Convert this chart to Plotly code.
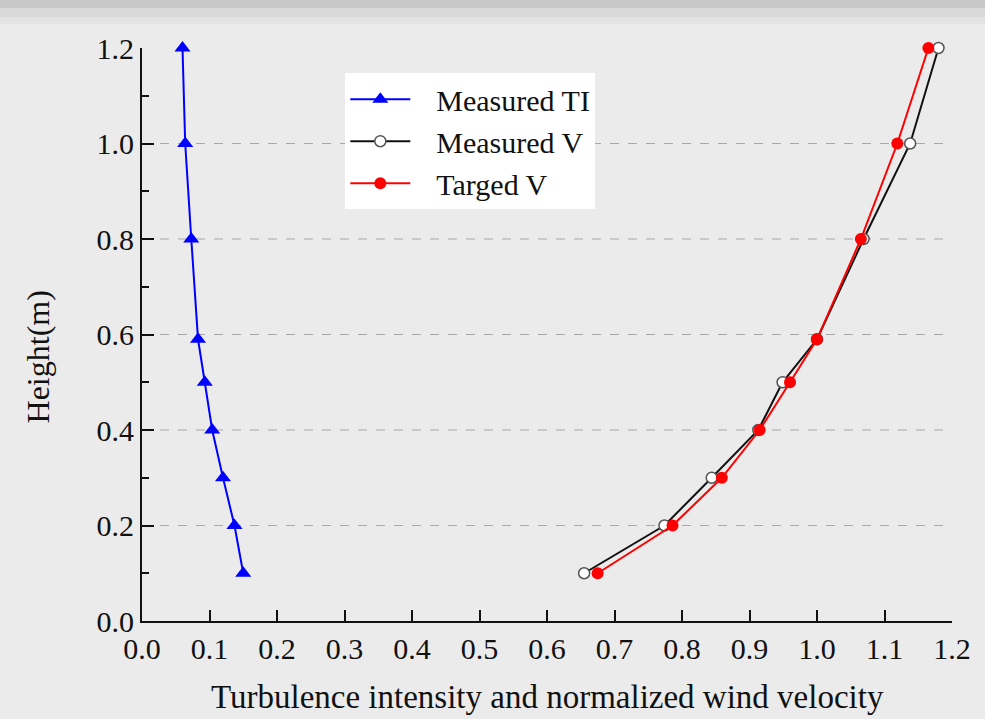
import plotly.graph_objects as go

# Data
heights = [0.1, 0.2, 0.3, 0.4, 0.5, 0.59, 0.8, 1.0, 1.2]
measured_ti = [0.150, 0.137, 0.120, 0.104, 0.093, 0.083, 0.073, 0.064, 0.060]
measured_v = [0.655, 0.774, 0.844, 0.913, 0.949, 1.000, 1.069, 1.138, 1.180]
targed_v = [0.675, 0.786, 0.859, 0.915, 0.960, 1.000, 1.065, 1.119, 1.165]
grid_levels = [0.2, 0.4, 0.6, 0.8, 1.0]
series_names = ["Measured TI", "Measured V", "Targed V"]

FONT = "Liberation Serif, Times New Roman, serif"
BG = "#ebebeb"
PAD = "\u2002\u2009"

fig = go.Figure()

fig.add_trace(go.Scatter(
    x=measured_ti, y=heights, mode="lines+markers", name=PAD + series_names[0],
    line=dict(color="#0000ff", width=2),
    marker=dict(symbol="triangle-up", size=14, color="#0000ff",
                line=dict(width=0)),
    cliponaxis=False,
))
fig.add_trace(go.Scatter(
    x=measured_v, y=heights, mode="lines+markers", name=PAD + series_names[1],
    line=dict(color="#111111", width=2),
    marker=dict(symbol="circle", size=11, color="#ffffff",
                line=dict(color="#555555", width=1.5)),
    cliponaxis=False,
))
fig.add_trace(go.Scatter(
    x=targed_v, y=heights, mode="lines+markers", name=PAD + series_names[2],
    line=dict(color="#ff0000", width=2),
    marker=dict(symbol="circle", size=12, color="#ff0000",
                line=dict(width=0)),
    cliponaxis=False,
))

shapes = []
# top strip
shapes.append(dict(type="rect", xref="paper", yref="paper", layer="below",
                   x0=-0.2, x1=1.1, y0=1.069, y1=1.1, fillcolor="#c8c8c8",
                   line=dict(width=0)))
shapes.append(dict(type="rect", xref="paper", yref="paper", layer="below",
                   x0=-0.2, x1=1.1, y0=1.054, y1=1.069, fillcolor="#d8d8d8",
                   line=dict(width=0)))
shapes.append(dict(type="rect", xref="paper", yref="paper", layer="below",
                   x0=-0.2, x1=1.1, y0=1.042, y1=1.054, fillcolor="#e3e3e3",
                   line=dict(width=0)))
for g in grid_levels:
    shapes.append(dict(type="line", xref="x", yref="y", layer="below",
                       x0=0, x1=1.2, y0=g, y1=g,
                       line=dict(color="#a8a8a8", width=1.2, dash="dash")))

fig.update_layout(
    width=985, height=719,
    paper_bgcolor=BG, plot_bgcolor=BG,
    margin=dict(l=142, r=33, t=48, b=98),
    font=dict(family=FONT, size=30, color="#111111"),
    shapes=shapes,
    showlegend=True,
    legend=dict(x=0.251, y=0.956, xanchor="left", yanchor="top",
                bgcolor="#ffffff", borderwidth=0,
                font=dict(family=FONT, size=30, color="#111111"),
                itemwidth=60, tracegroupgap=0),
    xaxis=dict(range=[0, 1.2], dtick=0.1, tick0=0, tickformat=".1f",
               showline=True, linecolor="#111111", linewidth=2,
               ticks="inside", ticklen=11, tickwidth=2, tickcolor="#111111",
               showgrid=False, zeroline=False,
               tickfont=dict(family=FONT, size=30, color="#111111")),
    yaxis=dict(range=[0, 1.2], dtick=0.2, tick0=0, tickformat=".1f",
               showline=True, linecolor="#111111", linewidth=2,
               ticks="inside", ticklen=12, tickwidth=2, tickcolor="#111111",
               minor=dict(ticks="inside", dtick=0.1, ticklen=7, tickwidth=2,
                          tickcolor="#111111", showgrid=False),
               showgrid=False, zeroline=False,
               tickfont=dict(family=FONT, size=30, color="#111111")),
    annotations=[
        dict(text="Turbulence intensity and normalized wind velocity",
             xref="paper", yref="paper", x=0.5, y=-0.1326,
             xanchor="center", yanchor="middle", showarrow=False,
             font=dict(family=FONT, size=33, color="#111111")),
        dict(text="Height(m)", xref="paper", yref="paper", x=-0.128, y=0.4605,
             xanchor="center", yanchor="middle", textangle=-90, showarrow=False,
             font=dict(family=FONT, size=32, color="#111111")),
    ],
)

fig.write_html(
    "out.html",
    config={"displayModeBar": False},
    post_script="document.body.style.margin='0';document.body.style.padding='0';"
                "document.body.style.background='#ebebeb';"
                "document.body.style.overflow='hidden';",
)
